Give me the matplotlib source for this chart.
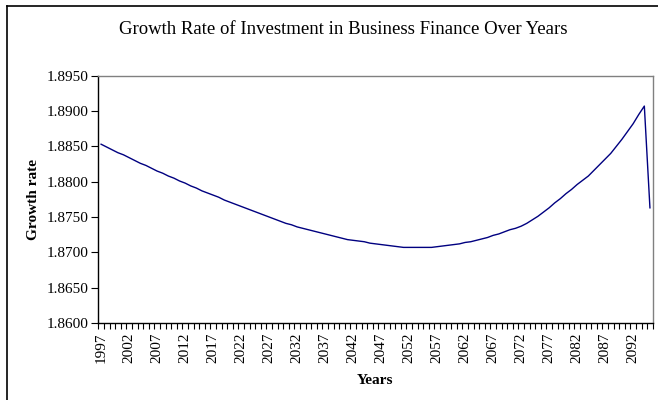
import matplotlib
matplotlib.use("Agg")
import matplotlib.pyplot as plt
from matplotlib.lines import Line2D
from matplotlib.ticker import FixedLocator, FormatStrFormatter

# Yearly growth rate, 1997-2095
years = list(range(1997, 2096))
growth_rate = [
    1.8853, 1.8849, 1.8845, 1.8841, 1.8838, 1.8834, 1.8830, 1.8826, 1.8823, 1.8819,  # 1997-2006
    1.8815, 1.8812, 1.8808, 1.8805, 1.8801, 1.8798, 1.8794, 1.8791, 1.8787, 1.8784,  # 2007-2016
    1.8781, 1.8778, 1.8774, 1.8771, 1.8768, 1.8765, 1.8762, 1.8759, 1.8756, 1.8753,  # 2017-2026
    1.8750, 1.8747, 1.8744, 1.8741, 1.8739, 1.8736, 1.8734, 1.8732, 1.8730, 1.8728,  # 2027-2036
    1.8726, 1.8724, 1.8722, 1.8720, 1.8718, 1.8717, 1.8716, 1.8715, 1.8713, 1.8712,  # 2037-2046
    1.8711, 1.8710, 1.8709, 1.8708, 1.8707, 1.8707, 1.8707, 1.8707, 1.8707, 1.8707,  # 2047-2056
    1.8708, 1.8709, 1.8710, 1.8711, 1.8712, 1.8714, 1.8715, 1.8717, 1.8719, 1.8721,  # 2057-2066
    1.8724, 1.8726, 1.8729, 1.8732, 1.8734, 1.8737, 1.8741, 1.8746, 1.8751, 1.8757,  # 2067-2076
    1.8763, 1.8770, 1.8776, 1.8783, 1.8789, 1.8796, 1.8802, 1.8808, 1.8816, 1.8824,  # 2077-2086
    1.8832, 1.8840, 1.8850, 1.8860, 1.8871, 1.8882, 1.8895, 1.8907, 1.8763,          # 2087-2095
]
y_ticks = [1.8600, 1.8650, 1.8700, 1.8750, 1.8800, 1.8850, 1.8900, 1.8950]
label_every = 5

plt.rcParams["font.family"] = ["Liberation Serif", "DejaVu Serif"]

fig = plt.figure(figsize=(6.58, 4.0), dpi=100)
ax = fig.add_axes([0.1494, 0.1925, 0.8426, 0.6183])

# categories are plotted by index, the way a category axis spaces them
idx = list(range(len(years)))
ax.plot(idx, growth_rate, color="#000080", linewidth=1.0)

ax.set_xlim(-0.5, len(years) - 0.5)
ax.set_ylim(y_ticks[0], y_ticks[-1])

# y axis
ax.set_yticks(y_ticks)
ax.yaxis.set_major_formatter(FormatStrFormatter("%.4f"))
ax.tick_params(axis="y", direction="out", length=5, width=0.8, pad=2, labelsize=11)

# x axis: labels every 5 years, tick marks between every category
ax.xaxis.set_major_locator(FixedLocator(idx[::label_every]))
ax.set_xticklabels([str(y) for y in years[::label_every]], rotation=90)
ax.xaxis.set_minor_locator(FixedLocator([i - 0.5 for i in range(len(years) + 1)]))
ax.tick_params(axis="x", which="major", length=0, pad=7, labelsize=11)
ax.tick_params(axis="x", which="minor", direction="out", length=4, width=0.8)

for side in ("left", "bottom"):
    ax.spines[side].set_color("black")
    ax.spines[side].set_linewidth(1.0)
for side in ("top", "right"):
    ax.spines[side].set_color("#808080")
    ax.spines[side].set_linewidth(1.0)

ax.set_xlabel("Years", fontsize=11, fontweight="bold", labelpad=8)
ax.set_ylabel("Growth rate", fontsize=11, fontweight="bold", labelpad=5)

fig.text(0.521, 0.927, "Growth Rate of Investment in Business Finance Over Years",
         ha="center", va="center", fontsize=13.5)

# chart frame: left and top edges
fig.add_artist(Line2D([6.5 / 658, 6.5 / 658], [0, 1 - 5.5 / 400], color="black", lw=1.2,
                      transform=fig.transFigure))
fig.add_artist(Line2D([6.5 / 658, 1], [1 - 5.5 / 400, 1 - 5.5 / 400], color="black", lw=1.2,
                      transform=fig.transFigure))

fig.savefig("out.png", dpi=100)
